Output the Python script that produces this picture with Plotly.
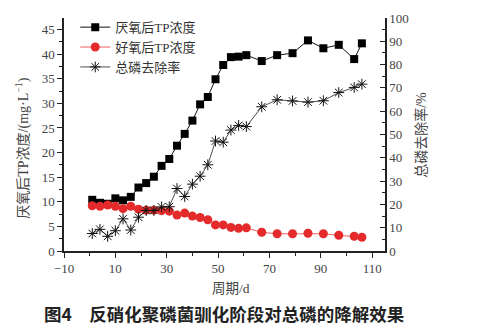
import plotly.graph_objects as go

days = [1, 4, 7, 10, 13, 16, 19, 22, 25, 28, 31, 34, 37, 40, 43, 46, 49, 52, 55, 58,
        61, 67, 73, 79, 85, 91, 97, 103, 106]
tp_anaerobic = [10.4, 9.8, 9.6, 10.7, 10.3, 11.0, 12.9, 13.8, 15.1, 17.3, 18.7, 21.4,
                23.8, 26.5, 29.8, 31.3, 34.9, 37.8, 39.4, 39.5, 39.8, 38.6, 39.8, 40.2,
                42.8, 41.2, 41.9, 39.0, 42.2]
tp_aerobic = [9.2, 9.1, 9.35, 9.1, 8.6, 9.1, 8.5, 8.3, 8.3, 8.2, 8.1, 7.3, 7.7, 7.1,
              6.8, 6.35, 5.3, 5.3, 4.8, 4.6, 4.7, 3.8, 3.5, 3.5, 3.6, 3.5, 3.2, 3.0, 2.8]
removal = [7.5, 9.3, 6.3, 8.7, 13.8, 9.0, 14.5, 17.4, 17.4, 18.9, 19.0, 26.8, 23.4,
           28.7, 32.1, 37.0, 47.2, 46.7, 51.9, 53.9, 53.4, 61.9, 64.9, 64.4, 63.9,
           64.5, 68.0, 70.2, 71.6]

names = ["厌氧后TP浓度", "好氧后TP浓度", "总磷去除率"]
x_ticks = [-10, 10, 30, 50, 70, 90, 110]

SERIF = "Liberation Serif, Noto Sans CJK SC, serif"
CJK = "Noto Sans CJK SC, sans-serif"

fig = go.Figure()
fig.add_trace(go.Scatter(
    x=days, y=tp_anaerobic, name=names[0], mode="lines+markers",
    line=dict(color="#111111", width=1),
    marker=dict(symbol="square", size=8, color="#000000"),
))
fig.add_trace(go.Scatter(
    x=days, y=tp_aerobic, name=names[1], mode="lines+markers",
    line=dict(color="#f06060", width=1),
    marker=dict(symbol="circle", size=9, color="#e42a2a"),
))
fig.add_trace(go.Scatter(
    x=days, y=removal, name=names[2], mode="lines+markers", yaxis="y2",
    line=dict(color="#222222", width=0.8),
    marker=dict(symbol="asterisk-open", size=9, color="#111111",
                line=dict(color="#111111", width=1)),
))

axis_common = dict(
    showgrid=False, zeroline=False, showline=True, linecolor="#222222", linewidth=1.5,
    tickcolor="#222222", tickwidth=1, tickfont=dict(family=SERIF, size=13, color="#444444"),
)

fig.update_layout(
    width=477, height=328,
    margin=dict(l=64, r=92, t=14, b=77),
    paper_bgcolor="white", plot_bgcolor="white",
    showlegend=True,
    legend=dict(x=0.035, y=1.025, xanchor="left", yanchor="top",
                bgcolor="rgba(0,0,0,0)", borderwidth=0,
                font=dict(family=SERIF, size=13, color="#333333"),
                tracegroupgap=0),
    xaxis=dict(range=[-10, 115], tickvals=x_ticks, ticks="outside", ticklen=5,
               minor=dict(dtick=10, tick0=0, ticks="outside", ticklen=3,
                          tickcolor="#222222"),
               **axis_common),
    yaxis=dict(range=[0, 47.35], dtick=5, tick0=0, ticks="outside", ticklen=5,
               minor=dict(dtick=2.5, ticks="outside", ticklen=3, tickcolor="#222222"),
               **axis_common),
    yaxis2=dict(range=[0, 100], dtick=10, tick0=0, overlaying="y", side="right",
                ticks="inside", ticklen=5,
                minor=dict(dtick=5, ticks="inside", ticklen=3, tickcolor="#222222"),
                **axis_common),
)

fig.add_annotation(text="周期/d", xref="paper", yref="paper", x=0.52, y=-0.16,
                   xanchor="center", yanchor="middle", showarrow=False,
                   font=dict(family=SERIF, size=13.5, color="#444444"))
fig.add_annotation(text="厌氧后TP浓度/(mg·L<sup>−1</sup>)", xref="paper", yref="paper",
                   x=-0.13, y=0.44, xanchor="center", yanchor="middle", textangle=-90,
                   showarrow=False, font=dict(family=SERIF, size=14, color="#444444"))
fig.add_annotation(text="总磷去除率/%", xref="paper", yref="paper",
                   x=1.11, y=0.50, xanchor="center", yanchor="middle", textangle=-90,
                   showarrow=False, font=dict(family=SERIF, size=14, color="#444444"))
fig.add_annotation(text="<b>图4　反硝化聚磷菌驯化阶段对总磷的降解效果</b>", xref="paper",
                   yref="paper", x=0.50, y=-0.27, xanchor="center", yanchor="middle",
                   showarrow=False, font=dict(family=CJK, size=17.5, color="#222222"))

fig.write_html("out.html")
